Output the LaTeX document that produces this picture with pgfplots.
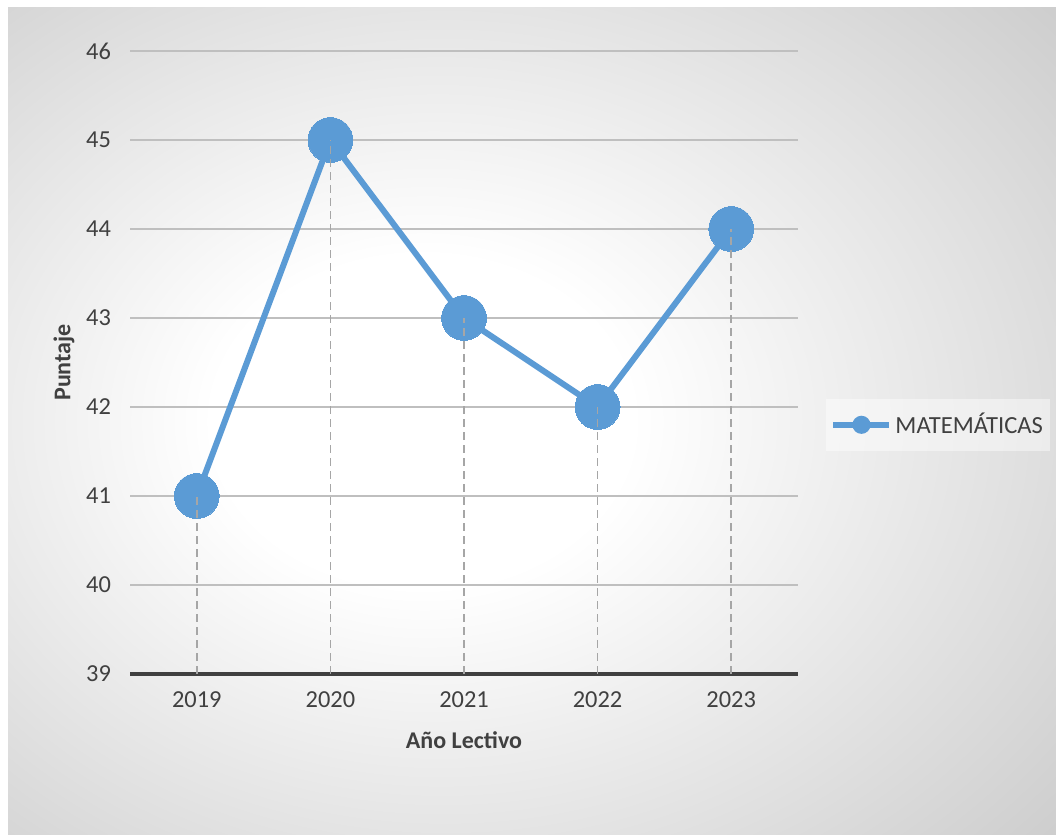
\documentclass[border=0pt]{standalone}
\usepackage{fontspec}
\setmainfont{Carlito}
\usepackage{pgfplots}
\pgfplotsset{compat=1.18}
\definecolor{serie}{HTML}{5B9BD5}
\definecolor{txt}{HTML}{404040}
\definecolor{grid}{HTML}{BFBFBF}
\definecolor{axisc}{HTML}{404040}
\definecolor{drop}{HTML}{A6A6A6}
\pgfdeclareradialshading{bgshade}{\pgfpoint{-6bp}{0bp}}{color(0bp)=(white); color(10bp)=(white); color(40bp)=(black!21); color(80bp)=(black!25)}
\pgfplotsset{
  droplines/.style={drop, line width=0.8pt, dash pattern=on 4pt off 2.5pt},
  common/.style={at={(65pt,80.5pt)}, anchor=south west,
  scale only axis, width=334pt, height=311.5pt,
  xmin=-0.5, xmax=4.5, ymin=39, ymax=46, clip=false}
}
\begin{document}
\begin{tikzpicture}[x=0.5pt,y=0.5pt]
\useasboundingbox (0,0) rectangle (1056,835);
\fill[white] (0,0) rectangle (1056,835);
\shade[shading=bgshade] (8,0) rectangle (1056,827);
\begin{axis}[
  common,
  xtick={0,1,2,3,4}, xticklabels={2019,2020,2021,2022,2023},
  ytick={39,40,...,46},
  axis x line*=bottom, axis y line*=left,
  x axis line style={line width=2pt, color=axisc, -},
  y axis line style={draw=none, -},
  xmajorgrids=false, ymajorgrids=true, grid style={grid, line width=0.6pt},
  major tick length=0pt,
  tick label style={font=\fontsize{12.2}{14}\selectfont, color=txt},
  /pgf/number format/assume math mode=true,
  xticklabel style={yshift=-5.5pt},
  yticklabel style={xshift=-6pt},
  xlabel={\textbf{Año Lectivo}}, ylabel={\textbf{Puntaje}},
  label style={font=\fontsize{12}{14}\selectfont, color=txt},
  xlabel style={yshift=-5pt},
  ylabel style={yshift=-1pt},
  legend style={at={(1.042,0.4)}, anchor=west, draw=none, fill=white, fill opacity=0.45, text opacity=1, font=\fontsize{12.3}{14}\selectfont, text=txt, inner xsep=2pt, inner ysep=5pt, nodes={inner xsep=1.5pt}},
  legend cell align=left,
]
\addplot[color=serie, line width=3pt, mark=*, mark size=11.2pt, mark options={fill=serie, draw=serie, line width=0pt},
  legend image code/.code={\draw[serie, line width=3pt] (0pt,0pt) -- (28pt,0pt); \fill[serie] (14pt,0pt) circle (3pt);}]
  coordinates {(0,41) (1,45) (2,43) (3,42) (4,44)};
\addlegendentry{MATEMÁTICAS}
\end{axis}
\begin{axis}[common, hide axis]
\addplot[droplines] coordinates {(0,39) (0,41)};
\addplot[droplines] coordinates {(1,39) (1,45)};
\addplot[droplines] coordinates {(2,39) (2,43)};
\addplot[droplines] coordinates {(3,39) (3,42)};
\addplot[droplines] coordinates {(4,39) (4,44)};
\end{axis}
\end{tikzpicture}
\end{document}
